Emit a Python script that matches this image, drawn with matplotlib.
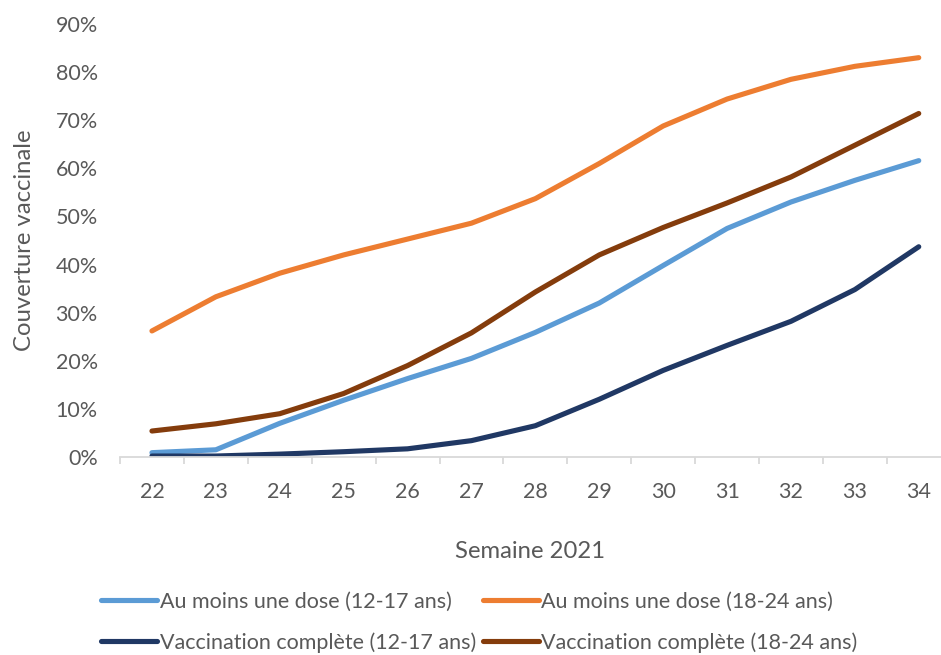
import matplotlib
matplotlib.use("Agg")
import matplotlib.pyplot as plt
import numpy as np
from matplotlib.ticker import PercentFormatter, FixedLocator

plt.rcParams['font.family'] = ['Lato', 'DejaVu Sans']

# semaines et couvertures (%)
semaines = [22, 23, 24, 25, 26, 27, 28, 29, 30, 31, 32, 33, 34]
dose_12_17 = [0.9, 1.5, 7.0, 11.8, 16.3, 20.5, 25.9, 32.0, 39.8, 47.5, 53.0, 57.5, 61.6]
dose_18_24 = [26.2, 33.3, 38.2, 42.0, 45.3, 48.6, 53.7, 61.0, 68.8, 74.4, 78.5, 81.2, 83.0]
compl_12_17 = [0.2, 0.2, 0.6, 1.1, 1.7, 3.4, 6.5, 12.0, 18.0, 23.2, 28.2, 34.8, 43.7]
compl_18_24 = [5.4, 6.9, 9.0, 13.2, 19.0, 25.8, 34.3, 42.0, 47.7, 52.8, 58.2, 64.8, 71.4]

labels = ["Au moins une dose (12-17 ans)", "Au moins une dose (18-24 ans)",
          "Vaccination complète (12-17 ans)", "Vaccination complète (18-24 ans)"]
colors = ["#5B9BD5", "#ED7D31", "#203864", "#843C0C"]

txt = "#595959"

fig = plt.figure(figsize=(9.41, 6.55), dpi=100)
ax = fig.add_axes([120/941, 198/655, 821/941, 433/655])

series = [dose_12_17, dose_18_24, compl_12_17, compl_18_24]
lines = []
for s, lab, c in zip(series, labels, colors):
    l, = ax.plot(semaines, s, color=c, lw=3.7, label=lab, solid_capstyle='round',
                 solid_joinstyle='round')
    lines.append(l)

ax.set_xlim(21.5, 21.5 + 821/63.9)
ax.set_ylim(0, 90)
ax.set_yticks(np.arange(0, 91, 10))
ax.yaxis.set_major_formatter(PercentFormatter(decimals=0))
ax.set_xticks(semaines)
ax.xaxis.set_minor_locator(FixedLocator(np.arange(21.5, 35, 1)))

for sp in ['top', 'right', 'left']:
    ax.spines[sp].set_visible(False)
ax.spines['bottom'].set_color('#D9D9D9')
ax.spines['bottom'].set_linewidth(1.3)

ax.tick_params(axis='y', length=0, pad=16, labelsize=15.5, labelcolor=txt)
ax.tick_params(axis='x', which='major', length=0, pad=18, labelsize=15.5, labelcolor=txt)
ax.tick_params(axis='x', which='minor', length=5, width=1.3, color='#D9D9D9')

ax.set_ylabel("Couverture vaccinale", fontsize=17.2, color=txt, labelpad=15)
ax.set_xlabel("Semaine 2021", fontsize=17.2, color=txt, labelpad=28)

fig.legend([lines[0], lines[2], lines[1], lines[3]],
           [labels[0], labels[2], labels[1], labels[3]],
           ncol=2, loc='lower left', bbox_to_anchor=(82/941, -0.026),
           frameon=False, fontsize=15.5, labelcolor=txt,
           handlelength=2.6, handletextpad=0.1, columnspacing=0.35,
           labelspacing=0.95)

fig.savefig("out.png", dpi=100)
